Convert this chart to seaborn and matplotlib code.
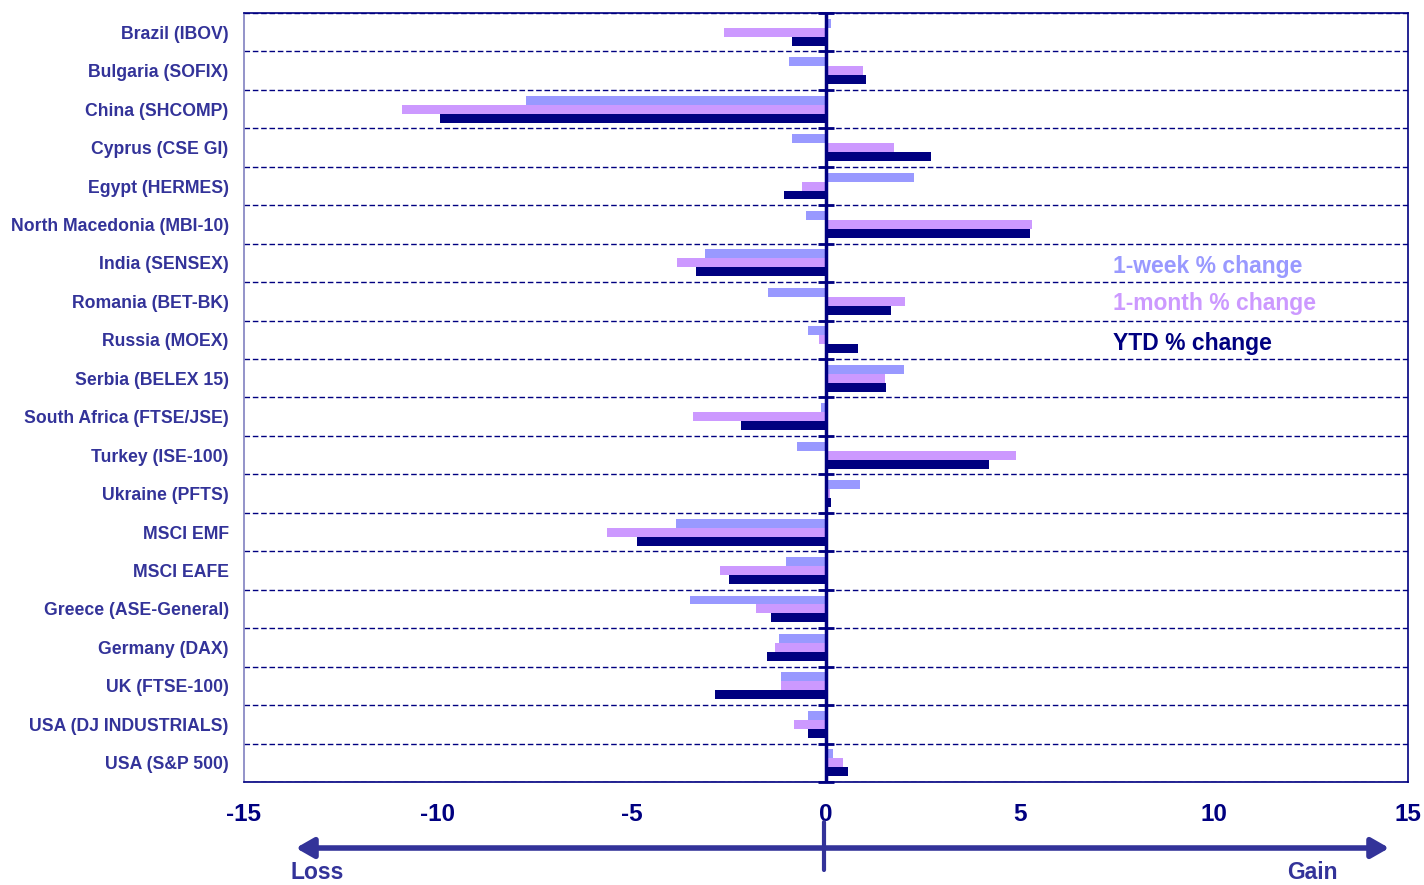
#
# Emerging market indices: weekly, monthly and YTD % changes
#

import matplotlib
matplotlib.use("Agg")
import matplotlib.pyplot as plt
import seaborn as sns
import pandas as pd

markets = ['Brazil (IBOV)', 'Bulgaria (SOFIX)', 'China (SHCOMP)', 'Cyprus (CSE GI)',
           'Egypt (HERMES)', 'North Macedonia (MBI-10)', 'India (SENSEX)',
           'Romania (BET-BK)', 'Russia (MOEX)', 'Serbia (BELEX 15)',
           'South Africa (FTSE/JSE)', 'Turkey (ISE-100)', 'Ukraine (PFTS)',
           'MSCI EMF', 'MSCI EAFE', 'Greece (ASE-General)', 'Germany (DAX)',
           'UK (FTSE-100)', 'USA (DJ INDUSTRIALS)', 'USA (S&P 500)']

week = [0.13, -0.95, -7.73, -0.88, 2.28, -0.52, -3.11, -1.49, -0.46, 2.02,
        -0.13, -0.75, 0.87, -3.87, -1.03, -3.50, -1.20, -1.15, -0.47, 0.17]
month = [-2.63, 0.95, -10.93, 1.75, -0.62, 5.30, -3.84, 2.04, -0.17, 1.53,
         -3.42, 4.89, 0.10, -5.64, -2.74, -1.80, -1.31, -1.15, -0.82, 0.44]
ytd = [-0.88, 1.02, -9.95, 2.71, -1.07, 5.26, -3.35, 1.68, 0.82, 1.54,
       -2.19, 4.21, 0.12, -4.88, -2.49, -1.43, -1.53, -2.86, -0.47, 0.56]

series = ['1-week % change', '1-month % change', 'YTD % change']
colors = ['#9999FF', '#CC99FF', '#000080']
navy = '#000080'
label_blue = '#333399'

df = pd.DataFrame({'market': markets, series[0]: week, series[1]: month, series[2]: ytd})
df = df.melt(id_vars='market', var_name='series', value_name='change')

sns.set_theme(style="white")
plt.rcParams['font.family'] = ['Liberation Sans', 'DejaVu Sans']
plt.rcParams['font.weight'] = 'bold'
plt.rcParams['axes.unicode_minus'] = False

fig = plt.figure(figsize=(14.24, 8.85), dpi=100)
ax = fig.add_axes([0.1713, 0.1164, 0.8175, 0.8689])

sns.barplot(data=df, y='market', x='change', hue='series', hue_order=series,
            palette=colors, saturation=1, orient='h', width=0.7, ax=ax,
            linewidth=0, legend=False)

ax.set_xlim(-15, 15)
ax.set_ylim(len(markets) - 0.5, -0.5)
ax.set_xticks(range(-15, 16, 5))
ax.set_xlabel('')
ax.set_ylabel('')

# dashed separators between markets
bounds = [i + 0.5 for i in range(-1, len(markets))]
ax.set_yticks(bounds, minor=True)
ax.grid(which='minor', axis='y', color=navy, linestyle=(0, (4, 2)), linewidth=1)
ax.grid(which='major', visible=False)

# zero line with little ticks on it
ax.axvline(0, color=navy, linewidth=2.5, zorder=3)
ax.plot([0] * len(bounds), bounds, linestyle='none', marker='_', markersize=12,
        markeredgewidth=2, color=navy, zorder=4, clip_on=False)

for side in ['top', 'right', 'bottom']:
    ax.spines[side].set_color(navy)
    ax.spines[side].set_linewidth(1.2)
ax.spines['left'].set_color('#8080C0')
ax.spines['left'].set_linewidth(1.2)

ax.tick_params(axis='y', which='both', length=0, pad=11, labelsize=12.7,
               labelcolor=label_blue)
ax.tick_params(axis='x', length=7, width=1, color='#8080C0', direction='out',
               pad=8, labelsize=17.5, labelcolor=navy)
for lab in ax.get_xticklabels() + ax.get_yticklabels():
    lab.set_fontweight('bold')

# legend as coloured text
for name, c, ypos in zip(series, colors, [6.1, 7.05, 8.1]):
    ax.text(7.4, ypos, name, color=c, fontsize=16.5, fontweight='bold',
            ha='left', va='center')

# loss / gain arrow beneath the axis
fig.patches.append(matplotlib.patches.FancyArrowPatch(
    (0.2058, 0.0418), (0.9775, 0.0418), transform=fig.transFigure,
    arrowstyle='<|-|>,head_length=7,head_width=4', mutation_scale=1.5,
    color='#333399', linewidth=4))
fig.add_artist(plt.Line2D([0.5787, 0.5787], [0.017, 0.071], color='#333399',
                          linewidth=3, transform=fig.transFigure))
fig.text(0.2226, 0.001, 'Loss', color='#333399', fontsize=16.5, fontweight='bold',
         ha='center', va='bottom')
fig.text(0.9213, 0.001, 'Gain', color='#333399', fontsize=16.5, fontweight='bold',
         ha='center', va='bottom')

fig.savefig('out.png', dpi=100)
